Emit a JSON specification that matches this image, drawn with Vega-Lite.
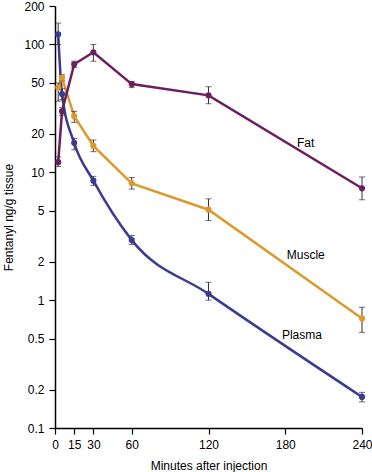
{
  "$schema": "https://vega.github.io/schema/vega-lite/v6.json",
  "width": 307,
  "height": 422,
  "autosize": {"type": "none"},
  "padding": {"left": 55, "top": 6, "right": 10, "bottom": 44},
  "background": "white",
  "config": {
    "view": {"stroke": null},
    "font": "Liberation Sans",
    "axis": {
      "grid": false,
      "domainColor": "#000",
      "domainWidth": 1.5,
      "tickColor": "#000",
      "tickWidth": 1.2,
      "labelColor": "#000",
      "titleColor": "#000",
      "labelFont": "Liberation Sans",
      "titleFont": "Liberation Sans",
      "labelFontSize": 12,
      "titleFontSize": 12,
      "titleFontWeight": "normal"
    }
  },
  "datasets": {
    "series": [
      {"tissue": "Plasma", "t": 2.5, "v": 120, "lo": 100, "hi": 147},
      {"tissue": "Plasma", "t": 5.5, "v": 41, "lo": 37, "hi": 45},
      {"tissue": "Plasma", "t": 15, "v": 17, "lo": 15, "hi": 18.4},
      {"tissue": "Plasma", "t": 30, "v": 8.6, "lo": 7.9, "hi": 9.3},
      {"tissue": "Plasma", "t": 60, "v": 2.95, "lo": 2.73, "hi": 3.2},
      {"tissue": "Plasma", "t": 120, "v": 1.12, "lo": 1.0, "hi": 1.38},
      {"tissue": "Plasma", "t": 240, "v": 0.175, "lo": 0.16, "hi": 0.19},
      {"tissue": "Muscle", "t": 2.5, "v": 46, "lo": 36, "hi": 50},
      {"tissue": "Muscle", "t": 5.5, "v": 55, "lo": 52, "hi": 58},
      {"tissue": "Muscle", "t": 15, "v": 27.5, "lo": 24.6, "hi": 30},
      {"tissue": "Muscle", "t": 30, "v": 16.1, "lo": 14.5, "hi": 17.9},
      {"tissue": "Muscle", "t": 60, "v": 8.2, "lo": 7.4, "hi": 9.1},
      {"tissue": "Muscle", "t": 120, "v": 5.1, "lo": 4.2, "hi": 6.2},
      {"tissue": "Muscle", "t": 240, "v": 0.72, "lo": 0.56, "hi": 0.88},
      {"tissue": "Fat", "t": 2.5, "v": 12, "lo": 11.1, "hi": 13.2},
      {"tissue": "Fat", "t": 5.5, "v": 30, "lo": 28, "hi": 32},
      {"tissue": "Fat", "t": 15, "v": 70, "lo": 66, "hi": 74},
      {"tissue": "Fat", "t": 30, "v": 87, "lo": 74, "hi": 100},
      {"tissue": "Fat", "t": 60, "v": 49, "lo": 46, "hi": 51},
      {"tissue": "Fat", "t": 120, "v": 40, "lo": 34.4, "hi": 46.7},
      {"tissue": "Fat", "t": 240, "v": 7.5, "lo": 6.1, "hi": 9.2}
    ],
    "labels": [
      {"tissue": "Fat", "t": 196, "v": 17},
      {"tissue": "Muscle", "t": 196, "v": 2.25},
      {"tissue": "Plasma", "t": 193, "v": 0.533}
    ]
  },
  "encoding": {
    "x": {
      "field": "t",
      "type": "quantitative",
      "scale": {"domain": [0, 240], "nice": false},
      "axis": {
        "values": [0, 15, 30, 60, 120, 180, 240],
        "title": "Minutes after injection",
        "tickSize": 6,
        "labelPadding": 5,
        "titlePadding": 10,
        "labelFlush": false
      }
    }
  },
  "layer": [
    {
      "data": {"name": "series"},
      "transform": [{"filter": "datum.tissue == 'Plasma'"}],
      "mark": {"type": "line", "interpolate": "monotone", "strokeWidth": 2.5},
      "encoding": {
        "y": {
          "field": "v",
          "type": "quantitative",
          "scale": {"type": "log", "domain": [0.1, 200], "nice": false},
          "axis": {
            "values": [0.1, 0.2, 0.5, 1, 2, 5, 10, 20, 50, 100, 200],
            "format": "~g",
            "title": "Fentanyl ng/g tissue",
            "tickSize": 6,
            "labelPadding": 5,
            "titlePadding": 8
          }
        },
        "color": {
          "field": "tissue",
          "type": "nominal",
          "scale": {"domain": ["Fat", "Muscle", "Plasma"], "range": ["#6b1f60", "#dc9a2c", "#3c3a94"]},
          "legend": null
        }
      }
    },
    {
      "data": {"name": "series"},
      "transform": [{"filter": "datum.tissue != 'Plasma'"}],
      "mark": {"type": "line", "interpolate": "linear", "strokeWidth": 2.5},
      "encoding": {
        "y": {"field": "v", "type": "quantitative"},
        "color": {"field": "tissue", "type": "nominal", "legend": null}
      }
    },
    {
      "data": {"name": "series"},
      "mark": {"type": "rule", "color": "#333", "strokeWidth": 1},
      "encoding": {
        "y": {"field": "lo", "type": "quantitative"},
        "y2": {"field": "hi"}
      }
    },
    {
      "data": {"name": "series"},
      "mark": {"type": "tick", "orient": "horizontal", "color": "#333", "size": 6, "thickness": 1},
      "encoding": {"y": {"field": "lo", "type": "quantitative"}}
    },
    {
      "data": {"name": "series"},
      "mark": {"type": "tick", "orient": "horizontal", "color": "#333", "size": 6, "thickness": 1},
      "encoding": {"y": {"field": "hi", "type": "quantitative"}}
    },
    {
      "data": {"name": "series"},
      "mark": {"type": "point", "filled": true, "opacity": 1, "size": 38},
      "encoding": {
        "y": {"field": "v", "type": "quantitative"},
        "color": {"field": "tissue", "type": "nominal", "legend": null}
      }
    },
    {
      "data": {"name": "labels"},
      "mark": {"type": "text", "fontSize": 12, "font": "Liberation Sans", "color": "#000"},
      "encoding": {
        "y": {"field": "v", "type": "quantitative"},
        "text": {"field": "tissue"}
      }
    }
  ]
}
